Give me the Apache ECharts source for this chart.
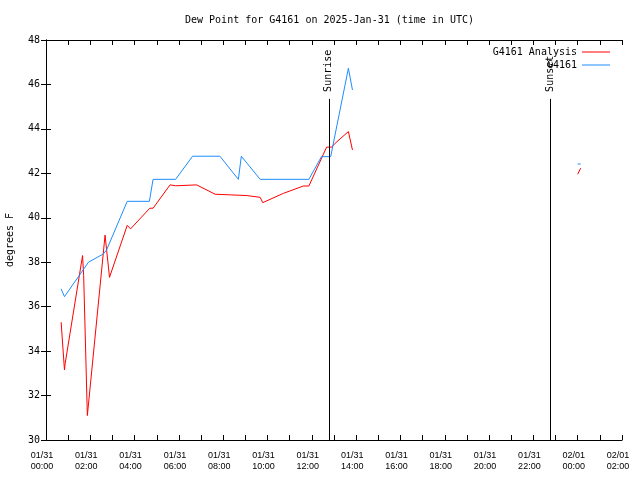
<!DOCTYPE html>
<html>
<head>
<meta charset="utf-8">
<script src="https://cdn.jsdelivr.net/npm/echarts@6/dist/echarts.min.js"></script>
<style>html,body{margin:0;padding:0;background:#fff;}#c{width:640px;height:480px;}</style>
</head>
<body>
<div id="c"></div>
<script>
const titleText = 'Dew Point for G4161 on 2025-Jan-31 (time in UTC)';
const yLabel = 'degrees F';
const seriesNames = ['G4161 Analysis', 'G4161'];
const xTickLabels = ['01/31\n00:00','01/31\n02:00','01/31\n04:00','01/31\n06:00','01/31\n08:00','01/31\n10:00','01/31\n12:00','01/31\n14:00','01/31\n16:00','01/31\n18:00','01/31\n20:00','01/31\n22:00','02/01\n00:00','02/01\n02:00'];

const analysisTimes = ['01/31 00:41','01/31 00:50','01/31 00:52','01/31 01:39','01/31 01:42','01/31 01:52','01/31 02:40','01/31 02:52','01/31 03:40','01/31 03:49','01/31 04:41','01/31 04:50','01/31 05:36','01/31 05:51','01/31 06:48','01/31 07:38','01/31 08:20','01/31 09:04','01/31 09:40','01/31 09:47','01/31 10:43','01/31 11:37','01/31 11:52','01/31 12:40','01/31 12:54','01/31 13:03','01/31 13:39','01/31 13:50','01/31 18:00','02/01 00:00','02/01 00:08'];
const analysisValues = [35.3,33.15,33.45,38.3,37.4,31.1,39.22,37.32,39.66,39.5,40.43,40.43,41.48,41.44,41.48,41.06,41.03,41.0,40.92,40.68,41.1,41.43,41.43,43.18,43.18,43.35,43.88,43.05,null,41.96,42.23];

const obsTimes = ['01/31 00:41','01/31 00:50','01/31 01:55','01/31 02:35','01/31 02:44','01/31 03:40','01/31 04:40','01/31 04:50','01/31 05:51','01/31 06:37','01/31 07:51','01/31 08:41','01/31 08:49','01/31 09:40','01/31 11:52','01/31 12:26','01/31 12:51','01/31 13:39','01/31 13:50','01/31 18:00','02/01 00:00','02/01 00:08'];
const obsValues = [36.8,36.45,38.0,38.37,38.55,40.74,40.74,41.73,41.73,42.77,42.77,41.73,42.77,41.73,41.73,42.75,42.75,46.73,45.75,null,42.42,42.42];

const sunEvents = ['Sunrise','Sunset'];
const sunTimes = ['01/31 12:46','01/31 22:46'];

function toHours(s) {
  const [d, t] = s.split(' ');
  const day = d === '02/01' ? 24 : 0;
  const [h, m] = t.split(':').map(Number);
  return day + h + m / 60;
}
const font = 'DejaVu Sans Mono';
const tickFont = 'Liberation Sans';
const redData = analysisTimes.map((t, i) => [toHours(t), analysisValues[i]]);
const blueData = obsTimes.map((t, i) => [toHours(t), obsValues[i]]);

const chart = echarts.init(document.getElementById('c'), null, {renderer: 'canvas'});
const axisCommon = {
  type: 'value',
  axisLine: {show: true, lineStyle: {color: '#000', width: 1}},
  axisTick: {show: true, inside: true, length: 5, lineStyle: {color: '#000'}},
  splitLine: {show: false}
};
chart.setOption({
  animation: false,
  backgroundColor: '#fff',
  title: {text: titleText, left: 185, top: 15, padding: 0, textStyle: {fontFamily: font, fontSize: 10, fontWeight: 'normal', color: '#000'}},
  legend: {
    orient: 'vertical', right: 30, top: 46, padding: 0, align: 'right', itemWidth: 28, itemHeight: 1, itemGap: 1,
    icon: 'rect',
    textStyle: {fontFamily: font, fontSize: 10, color: '#000', lineHeight: 12},
    data: seriesNames
  },
  grid: {left: 46, right: 18, top: 40, bottom: 40, containLabel: false, outerBoundsMode: 'none'},
  xAxis: [
    Object.assign({}, axisCommon, {
      min: 0, max: 26, interval: 1, position: 'bottom',
      axisLabel: {margin: 10, fontFamily: tickFont, fontSize: 9, color: '#000', lineHeight: 11, hideOverlap: false,
        padding: [0, 8, 0, 0],
        formatter: v => (Math.round(v) % 2 === 0 ? xTickLabels[Math.round(v) / 2] : '')}
    }),
    Object.assign({}, axisCommon, {min: 0, max: 26, interval: 1, position: 'top', axisLabel: {show: false}})
  ],
  yAxis: [
    Object.assign({}, axisCommon, {
      min: 30, max: 48, interval: 2, position: 'left',
      name: yLabel, nameLocation: 'middle', nameGap: 31, nameRotate: 90,
      nameTextStyle: {fontFamily: font, fontSize: 10, color: '#000'},
      axisLabel: {margin: 6, fontFamily: font, fontSize: 10, color: '#000', padding: [4, 0, 0, 0]}
    }),
    Object.assign({}, axisCommon, {min: 30, max: 48, interval: 2, position: 'right', axisLabel: {show: false}})
  ],
  series: [
    {
      name: seriesNames[0], type: 'line', data: redData, symbol: 'none', connectNulls: false,
      lineStyle: {color: '#ff0000', width: 1}, itemStyle: {color: '#ff0000'}
    },
    {
      name: seriesNames[1], type: 'line', data: blueData, symbol: 'none', connectNulls: false,
      lineStyle: {color: '#1e8cff', width: 1}, itemStyle: {color: '#1e8cff'},
      markLine: {
        silent: true, symbol: 'none',
        lineStyle: {color: '#000', width: 1, type: 'solid'},
        label: {show: true, position: 'end', rotate: 90, align: 'left', verticalAlign: 'middle', distance: 7,
          fontFamily: font, fontSize: 10, color: '#000', formatter: p => p.name},
        data: sunTimes.map((t, i) => [
          {name: sunEvents[i], coord: [toHours(t), 30]},
          {coord: [toHours(t), 45.35]}
        ])
      }
    }
  ]
});
</script>
</body>
</html>
